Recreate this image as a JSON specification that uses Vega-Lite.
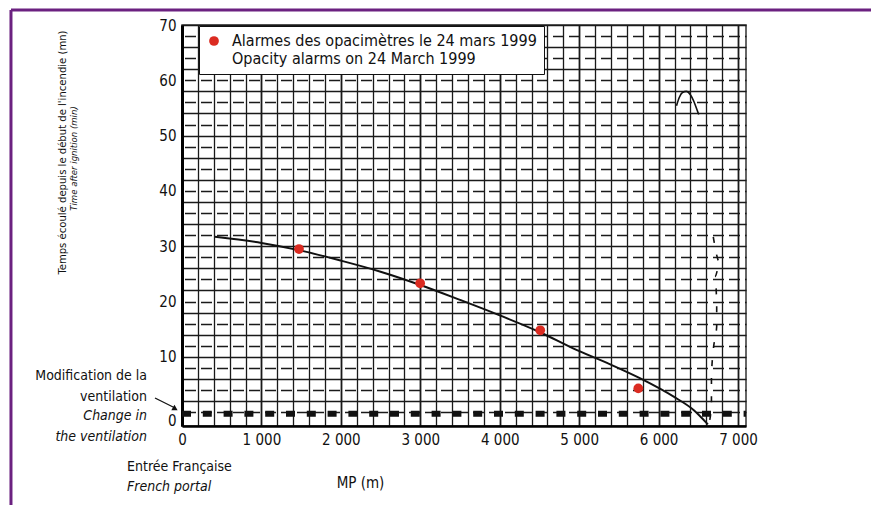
{
  "$schema": "https://vega.github.io/schema/vega-lite/v6.json",
  "width": 564,
  "height": 401,
  "autosize": {"type": "none"},
  "padding": {"left": 182, "top": 25, "right": 125, "bottom": 79},
  "background": "white",
  "config": {
    "font": "DejaVu Sans Condensed, Liberation Sans Narrow, sans-serif",
    "view": {"stroke": "#333", "strokeWidth": 1.5}
  },
  "layer": [
    {
      "layer": [
        {
          "data": {"values": [
            {"mp": 415, "t": 31.7}, {"mp": 1000, "t": 30.6}, {"mp": 1470, "t": 29.3},
            {"mp": 2000, "t": 27.4}, {"mp": 2500, "t": 25.4}, {"mp": 3000, "t": 23.0},
            {"mp": 3500, "t": 20.3}, {"mp": 4000, "t": 17.5}, {"mp": 4500, "t": 14.5},
            {"mp": 4930, "t": 11.5}, {"mp": 5350, "t": 8.9}, {"mp": 5770, "t": 6.1},
            {"mp": 6190, "t": 2.8}, {"mp": 6440, "t": 0.4}, {"mp": 6620, "t": -2.2}
          ]},
          "mark": {"type": "line", "color": "#111", "strokeWidth": 2, "interpolate": "monotone"},
          "encoding": {
            "x": {
              "field": "mp", "type": "quantitative",
              "scale": {"domain": [0, 7100], "nice": false, "zero": false},
              "axis": {
                "values": [0,200,400,600,800,1000,1200,1400,1600,1800,2000,2200,2400,2600,2800,3000,3200,3400,3600,3800,4000,4200,4400,4600,4800,5000,5200,5400,5600,5800,6000,6200,6400,6600,6800,7000],
                "tickCount": 200,
                "labelExpr": "datum.value % 1000 === 0 ? (datum.value === 0 ? '0' : floor(datum.value / 1000) + ' 000') : ''",
                "labelFontSize": 15, "labelColor": "#111", "labelPadding": 6,
                "labelOverlap": false, "labelFlush": false,
                "ticks": false,
                "domainColor": "#000", "domainWidth": 2.5,
                "gridColor": "#1a1a1a",
                "gridWidth": {"condition": {"test": "datum.value % 1000 === 0", "value": 1.8}, "value": 1.3},
                "title": "MP (m)", "titleFontSize": 15, "titleFontWeight": "normal", "titleColor": "#111",
                "titleX": 178, "titleY": 56, "titleAlign": "center", "titleBaseline": "middle"
              }
            },
            "y": {
              "field": "t", "type": "quantitative",
              "scale": {"domain": [-2.5, 70], "nice": false, "zero": false},
              "axis": {
                "values": [0,2,4,6,8,10,12,14,16,18,20,22,24,26,28,30,32,34,36,38,40,42,44,46,48,50,52,54,56,58,60,62,64,66,68,70],
                "tickCount": 200,
                "labelExpr": "datum.value % 10 === 0 ? format(datum.value, 'd') : ''",
                "labelFontSize": 15, "labelColor": "#111", "labelPadding": 6,
                "labelOverlap": false,
                "labelOffset": {"condition": {"test": "datum.value === 0", "value": 8}, "value": 0},
                "ticks": false,
                "domainColor": "#000", "domainWidth": 3,
                "gridColor": "#1a1a1a", "gridWidth": 1.3,
                "gridDash": {"condition": {"test": "datum.value % 4 === 2", "value": []}, "value": [11, 5]},
                "gridDashOffset": 13.5,
                "title": "Time after ignition (min)", "titleFontSize": 9.5, "titleFontStyle": "italic",
                "titleFontWeight": "normal", "titleColor": "#111",
                "titleX": -109, "titleY": 133, "titleAngle": 270, "titleAlign": "center", "titleBaseline": "middle"
              }
            }
          }
        },
        {
          "data": {"values": [
            {"mp": 6688, "t": 31.7}, {"mp": 6772, "t": 27.0}, {"mp": 6709, "t": 24.5},
            {"mp": 6731, "t": 19.7}, {"mp": 6731, "t": 15.5}, {"mp": 6688, "t": 11.2},
            {"mp": 6665, "t": 6.4}, {"mp": 6665, "t": 1.7}, {"mp": 6644, "t": -1.4}
          ]},
          "mark": {"type": "line", "color": "#111", "strokeWidth": 1.6, "strokeDash": [6, 12], "interpolate": "monotone"},
          "encoding": {
            "x": {"field": "mp", "type": "quantitative", "sort": null},
            "y": {"field": "t", "type": "quantitative"},
            "order": {"field": "t", "sort": "descending"}
          }
        },
        {
          "data": {"values": [
            {"mp": 6225, "t": 55.4}, {"mp": 6260, "t": 56.9}, {"mp": 6300, "t": 57.8},
            {"mp": 6350, "t": 58.0}, {"mp": 6400, "t": 57.4}, {"mp": 6440, "t": 56.3},
            {"mp": 6475, "t": 55.0}, {"mp": 6505, "t": 53.8}
          ]},
          "mark": {"type": "line", "color": "#111", "strokeWidth": 1.6, "interpolate": "monotone"},
          "encoding": {
            "x": {"field": "mp", "type": "quantitative"},
            "y": {"field": "t", "type": "quantitative"}
          }
        },
        {
          "data": {"values": [{}]},
          "mark": {"type": "rule", "color": "#111", "strokeWidth": 6, "strokeDash": [9, 11.8]},
          "encoding": {
            "x": {"datum": 0}, "x2": {"datum": 7100},
            "y": {"datum": -0.3}
          }
        },
        {
          "data": {"values": [{}]},
          "mark": {"type": "rule", "color": "#111", "strokeWidth": 1.3},
          "encoding": {
            "x": {"datum": -340}, "x2": {"datum": -100},
            "y": {"datum": 2.57}, "y2": {"datum": 0.85}
          }
        },
        {
          "data": {"values": [{}]},
          "mark": {"type": "point", "shape": "triangle-right", "filled": true, "color": "#111", "size": 40, "angle": 30, "opacity": 1},
          "encoding": {
            "x": {"datum": -85},
            "y": {"datum": 0.6}
          }
        },
        {
          "data": {"values": [{}]},
          "mark": {"type": "text", "align": "right", "baseline": "middle", "fontSize": 14, "lineHeight": 21, "color": "#111",
                   "text": ["Modification de la", "ventilation"]},
          "encoding": {"x": {"datum": -440}, "y": {"datum": 6.55}}
        },
        {
          "data": {"values": [{}]},
          "mark": {"type": "text", "align": "right", "baseline": "middle", "fontSize": 14, "lineHeight": 21, "color": "#111",
                   "fontStyle": "italic", "text": ["Change in", "the ventilation"]},
          "encoding": {"x": {"datum": -440}, "y": {"datum": -0.78}}
        },
        {
          "data": {"values": [{}]},
          "mark": {"type": "text", "align": "left", "baseline": "middle", "fontSize": 14, "color": "#111",
                   "text": "Entrée Française"},
          "encoding": {"x": {"datum": -692}, "y": {"datum": -9.9}}
        },
        {
          "data": {"values": [{}]},
          "mark": {"type": "text", "align": "left", "baseline": "middle", "fontSize": 14, "color": "#111",
                   "fontStyle": "italic", "text": "French portal"},
          "encoding": {"x": {"datum": -692}, "y": {"datum": -13.5}}
        },
        {
          "data": {"values": [{}]},
          "mark": {"type": "rule", "color": "#6b2180", "strokeWidth": 3},
          "encoding": {
            "x": {"datum": -2153}, "x2": {"datum": 9000},
            "y": {"datum": 72.71}
          }
        },
        {
          "data": {"values": [{}]},
          "mark": {"type": "rule", "color": "#6b2180", "strokeWidth": 3},
          "encoding": {
            "x": {"datum": -2153},
            "y": {"datum": 72.71}, "y2": {"datum": -20}
          }
        },
        {
          "data": {"values": [
            {"mp": 1473, "t": 29.5, "serie": "Alarmes des opacimètres le 24 mars 1999"},
            {"mp": 2998, "t": 23.3, "serie": "Alarmes des opacimètres le 24 mars 1999"},
            {"mp": 4510, "t": 14.8, "serie": "Alarmes des opacimètres le 24 mars 1999"},
            {"mp": 5744, "t": 4.3, "serie": "Alarmes des opacimètres le 24 mars 1999"}
          ]},
          "mark": {"type": "point", "filled": true, "size": 95, "opacity": 1},
          "encoding": {
            "x": {"field": "mp", "type": "quantitative"},
            "y": {"field": "t", "type": "quantitative"},
            "color": {
              "field": "serie", "type": "nominal",
              "scale": {"range": ["#db2b21"]},
              "legend": {
                "orient": "none", "legendX": 17, "legendY": 1,
                "title": null,
                "labelExpr": "['Alarmes des opacimètres le 24 mars 1999', 'Opacity alarms on 24 March 1999']",
                "labelFontSize": 16, "labelColor": "#111", "labelLimit": 600, "labelOffset": 10,
                "symbolType": "circle", "symbolSize": 95, "symbolStrokeWidth": 0,
                "strokeColor": "#111", "fillColor": "white", "padding": 7, "cornerRadius": 0
              }
            }
          }
        }
      ]
    },
    {
      "data": {"values": [{}]},
      "mark": {"type": "point", "opacity": 0},
      "encoding": {
        "x": {"datum": 0},
        "y": {
          "datum": 0, "type": "quantitative",
          "scale": {"domain": [-2.5, 70], "nice": false, "zero": false},
          "axis": {
            "orient": "left", "labels": false, "ticks": false, "domain": false, "grid": false,
            "title": "Temps écoulé depuis le début de l'incendie (mn)",
            "titleFontSize": 11.2, "titleFontWeight": "normal", "titleColor": "#111",
            "titleX": -120, "titleY": 127, "titleAngle": 270, "titleAlign": "center", "titleBaseline": "middle"
          }
        }
      }
    }
  ],
  "resolve": {"scale": {"y": "independent"}}
}
